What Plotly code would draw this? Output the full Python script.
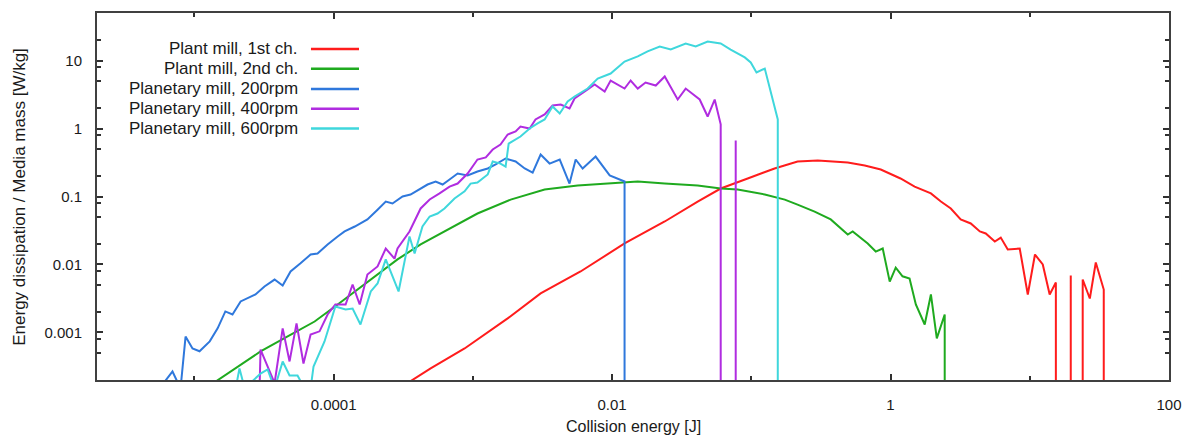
import plotly.graph_objects as go

# ---------------- data ----------------
red_E = [3.1e-4, 4.98e-4, 8.73e-4, 1.78e-3, 3.07e-3, 5.94e-3, 1.23e-2, 2.39e-2, 4.12e-2, 6.03e-2,
         9.42e-2, 0.147, 0.215, 0.300, 0.493, 0.653, 0.851, 1.18, 1.49, 1.95,
         2.30, 2.71, 3.19, 3.77, 4.38, 4.83, 5.61, 6.19, 6.95, 8.47,
         9.68, 10.9, 12.4, 13.9, 15.4, 15.4, 19.7, 19.7, 19.7, 24.0,
         24.0, 27.0, 29.8, 34.0, 34.0]
red_P = [1.6e-4, 2.96e-4, 5.82e-4, 1.61e-3, 3.75e-3, 7.89e-3, 2.04e-2, 4.29e-2, 8.43e-2, 0.131,
         0.184, 0.258, 0.327, 0.338, 0.316, 0.286, 0.249, 0.184, 0.140, 0.111,
         0.0843, 0.0667, 0.0459, 0.0401, 0.0306, 0.0286, 0.0218, 0.0249, 0.0166, 0.0172,
         0.00362, 0.0140, 0.0100, 0.00362, 0.00543, 1e-6, 1e-6, 0.00689, 1e-6, 1e-6,
         0.00601, 0.00316, 0.0107, 0.00428, 1e-6]

green_E = [1.2e-5, 1.95e-5, 2.99e-5, 4.68e-5, 7.31e-5, 1.07e-4, 1.67e-4, 2.88e-4, 4.22e-4, 6.27e-4,
           1.08e-3, 1.87e-3, 3.28e-3, 5.66e-3, 9.77e-3, 1.53e-2, 2.39e-2, 4.12e-2, 6.03e-2, 7.98e-2,
           0.125, 0.174, 0.215, 0.285, 0.372, 0.493, 0.535, 0.686, 0.783, 0.879,
           0.987, 1.09, 1.22, 1.37, 1.52, 1.76, 1.95, 2.15, 2.45, 2.45]
green_P = [1.5e-4, 2.96e-4, 5.26e-4, 8.73e-4, 1.45e-3, 2.58e-3, 5.08e-3, 1.19e-2, 1.97e-2, 3.06e-2,
           5.62e-2, 9.0e-2, 0.127, 0.145, 0.155, 0.166, 0.155, 0.145, 0.131, 0.127,
           0.107, 0.090, 0.076, 0.060, 0.046, 0.0276, 0.0306, 0.0204, 0.0155, 0.0172,
           0.0056, 0.0090, 0.0067, 0.0062, 0.00258, 0.00131, 0.00362, 8.2e-4, 1.84e-3, 1e-6]

blue_E = [5.62e-6, 6.97e-6, 7.96e-6, 8.65e-6, 9.70e-6, 1.09e-5, 1.29e-5, 1.47e-5, 1.67e-5, 1.88e-5,
          2.15e-5, 2.54e-5, 2.75e-5, 3.19e-5, 3.77e-5, 4.31e-5, 4.91e-5, 5.79e-5, 6.84e-5, 7.67e-5,
          9.06e-5, 1.07e-4, 1.20e-4, 1.42e-4, 1.75e-4, 2.07e-4, 2.37e-4, 2.65e-4, 3.13e-4, 3.57e-4,
          4.22e-4, 4.73e-4, 5.41e-4, 6.07e-4, 6.81e-4, 7.78e-4, 9.18e-4, 1.08e-3, 1.28e-3, 1.46e-3,
          1.72e-3, 2.03e-3, 2.36e-3, 2.69e-3, 3.07e-3, 3.56e-3, 4.21e-3, 4.95e-3, 5.48e-3, 6.15e-3,
          7.62e-3, 9.62e-3, 1.23e-2, 1.23e-2]
blue_P = [1.5e-4, 2.67e-4, 1.5e-4, 8.7e-4, 5.8e-4, 5.3e-4, 7.4e-4, 1.15e-3, 2.04e-3, 1.84e-3,
          2.86e-3, 3.38e-3, 3.62e-3, 4.75e-3, 6.0e-3, 4.9e-3, 7.9e-3, 1.04e-2, 1.40e-2, 1.45e-2,
          1.97e-2, 2.58e-2, 3.06e-2, 3.62e-2, 4.59e-2, 6.4e-2, 8.4e-2, 7.9e-2, 0.100, 0.107,
          0.131, 0.150, 0.166, 0.150, 0.178, 0.218, 0.204, 0.233, 0.258, 0.296,
          0.362, 0.327, 0.258, 0.225, 0.415, 0.305, 0.350, 0.155, 0.350, 0.258,
          0.387, 0.204, 0.166, 1e-6]

purple_E = [2.94e-5, 2.99e-5, 3.77e-5, 4.31e-5, 4.83e-5, 5.42e-5, 6.08e-5, 6.84e-5, 7.93e-5, 9.06e-5,
            1.03e-4, 1.22e-4, 1.37e-4, 1.54e-4, 1.75e-4, 2.07e-4, 2.37e-4, 2.74e-4, 2.88e-4, 3.51e-4,
            4.22e-4, 4.90e-4, 5.77e-4, 6.81e-4, 7.78e-4, 9.18e-4, 1.08e-3, 1.24e-3, 1.39e-3, 1.58e-3,
            1.78e-3, 2.03e-3, 2.20e-3, 2.56e-3, 2.82e-3, 3.28e-3, 3.74e-3, 4.28e-3, 4.95e-3, 5.38e-3,
            6.68e-3, 7.50e-3, 8.85e-3, 9.77e-3, 1.23e-2, 1.36e-2, 1.53e-2, 1.74e-2, 2.06e-2, 2.39e-2,
            2.96e-2, 3.38e-2, 4.26e-2, 4.86e-2, 5.46e-2, 6.03e-2, 6.03e-2, 7.73e-2, 7.73e-2, 7.73e-2]
purple_P = [1.5e-4, 5.6e-4, 1.8e-4, 1.15e-3, 3.75e-4, 1.36e-3, 3.50e-4, 9.3e-4, 1.04e-3, 1.84e-3,
            2.58e-3, 2.58e-3, 5.08e-3, 2.58e-3, 7.13e-3, 9.35e-3, 1.72e-2, 1.22e-2, 1.72e-2, 3.06e-2,
            6.67e-2, 9.04e-2, 0.111, 0.140, 0.155, 0.218, 0.350, 0.375, 0.491, 0.582,
            0.817, 0.904, 1.07, 1.0, 1.36, 1.61, 2.18, 2.25, 1.97, 2.76,
            3.75, 4.44, 3.50, 5.08, 3.87, 5.08, 3.87, 4.75, 4.29, 5.82,
            2.67, 3.87, 2.67, 1.50, 2.67, 1.15, 1e-6, 1e-6, 0.667, 1e-6]

cyan_E = [1.98e-5, 2.11e-5, 2.30e-5, 2.99e-5, 3.36e-5, 3.77e-5, 4.31e-5, 4.83e-5, 5.51e-5, 6.19e-5,
          6.84e-5, 7.18e-5, 8.61e-5, 1.03e-4, 1.22e-4, 1.37e-4, 1.56e-4, 1.85e-4, 2.07e-4, 2.37e-4,
          2.93e-4, 3.51e-4, 3.82e-4, 4.35e-4, 4.90e-4, 5.58e-4, 6.26e-4, 7.39e-4, 8.73e-4, 9.64e-4,
          1.08e-3, 1.28e-3, 1.39e-3, 1.58e-3, 1.72e-3, 1.81e-3, 2.20e-3, 2.56e-3, 2.92e-3, 3.28e-3,
          3.74e-3, 4.21e-3, 4.80e-3, 5.38e-3, 6.68e-3, 7.89e-3, 9.77e-3, 1.23e-2, 1.53e-2, 1.80e-2,
          2.20e-2, 2.64e-2, 3.38e-2, 3.99e-2, 4.86e-2, 6.03e-2, 7.11e-2, 8.98e-2, 9.91e-2, 0.109,
          0.125, 0.138, 0.155, 0.155]
cyan_P = [1.5e-4, 2.96e-4, 1.5e-4, 2.49e-4, 2.86e-4, 1.5e-4, 3.75e-4, 2.33e-4, 2.33e-4, 1.5e-4,
          1.5e-4, 3.16e-4, 7.38e-4, 2.41e-3, 2.18e-3, 2.25e-3, 1.31e-3, 4.01e-3, 5.26e-3, 1.19e-2,
          4.01e-3, 2.58e-2, 1.45e-2, 3.62e-2, 5.08e-2, 5.62e-2, 6.67e-2, 9.35e-2, 0.119, 0.155,
          0.161, 0.211, 0.327, 0.305, 0.276, 0.601, 0.762, 1.0, 1.19, 1.36,
          2.11, 1.66, 2.49, 2.96, 3.87, 5.43, 6.44, 9.66, 11.5, 13.6,
          16.1, 14.5, 17.8, 16.1, 19.0, 17.8, 14.5, 11.1, 9.35, 6.67,
          7.62, 3.50, 1.36, 1e-6]

series_names = ["Plant mill, 1st ch.", "Plant mill, 2nd ch.", "Planetary mill, 200rpm",
                "Planetary mill, 400rpm", "Planetary mill, 600rpm"]
series_colors = ["#ff1c1c", "#1faa1f", "#2f78dc", "#b02ce0", "#3fd7dc"]

x_tickvals = [1e-4, 1e-2, 1, 100]
x_ticktext = ["0.0001", "0.01", "1", "100"]
x_minor = [1e-5, 1e-3, 0.1, 10]
y_tickvals = [0.001, 0.01, 0.1, 1, 10]
y_ticktext = ["0.001", "0.01", "0.1", "1", "10"]
y_minor = [5e-4, 8e-4, 2e-3, 5e-3, 8e-3, 0.02, 0.05, 0.08, 0.2, 0.5, 0.8, 2, 5, 8, 20]

FONT = "Liberation Sans, Arial, sans-serif"

fig = go.Figure()
all_E = [red_E, green_E, blue_E, purple_E, cyan_E]
all_P = [red_P, green_P, blue_P, purple_P, cyan_P]
for E, P, name, col in zip(all_E, all_P, series_names, series_colors):
    fig.add_trace(go.Scatter(x=E, y=P, mode="lines", name=name,
                             line=dict(color=col, width=2), showlegend=False))

# custom legend (text on the left, line sample on the right, like the original)
row_y = [0.902, 0.848, 0.793, 0.739, 0.685]
for name, col, ry in zip(series_names, series_colors, row_y):
    fig.add_annotation(x=0.1894, y=ry, xref="paper", yref="paper", text=name,
                       showarrow=False, xanchor="right", yanchor="middle",
                       font=dict(family=FONT, size=17, color="#1a1a1a"))
    fig.add_shape(type="line", xref="paper", yref="paper", x0=0.1996, x1=0.2444,
                  y0=ry, y1=ry, line=dict(color=col, width=2.5))

# axis titles
fig.add_annotation(x=0.5, y=0, xref="paper", yref="paper", text="Collision energy [J]",
                   showarrow=False, xanchor="center", yanchor="top", yshift=-36,
                   font=dict(family=FONT, size=16, color="#1a1a1a"))
fig.add_annotation(x=-0.0725, y=0.5, xref="paper", yref="paper",
                   text="Energy dissipation / Media mass [W/kg]", textangle=-90,
                   showarrow=False, xanchor="center", yanchor="middle",
                   font=dict(family=FONT, size=17, color="#1a1a1a"))

axis_common = dict(showgrid=False, zeroline=False, showline=True, linecolor="#404040",
                   linewidth=2, mirror="ticks", ticks="inside", ticklen=6, tickwidth=1.5,
                   tickcolor="#303030", tickfont=dict(family=FONT, size=15, color="#1a1a1a"))

fig.update_xaxes(type="log", range=[-5.699, 2.0], tickmode="array", tickvals=x_tickvals,
                 ticktext=x_ticktext, ticklabelstandoff=10,
                 minor=dict(tickmode="array", tickvals=x_minor, ticks="inside", ticklen=4,
                            tickwidth=1.5, tickcolor="#303030"),
                 **axis_common)
fig.update_yaxes(type="log", range=[-3.699, 1.699], tickmode="array", tickvals=y_tickvals,
                 ticktext=y_ticktext, ticklabelstandoff=10,
                 minor=dict(tickmode="array", tickvals=y_minor, ticks="inside", ticklen=4,
                            tickwidth=1.5, tickcolor="#303030"),
                 **axis_common)

fig.update_layout(width=1193, height=439, autosize=False,
                  margin=dict(l=97, r=24, t=11, b=59),
                  paper_bgcolor="white", plot_bgcolor="white",
                  font=dict(family=FONT, size=15, color="#1a1a1a"))

fig.write_html("out.html", config={"displayModeBar": False},
               post_script="document.body.style.margin='0px';document.body.style.overflow='hidden';")
